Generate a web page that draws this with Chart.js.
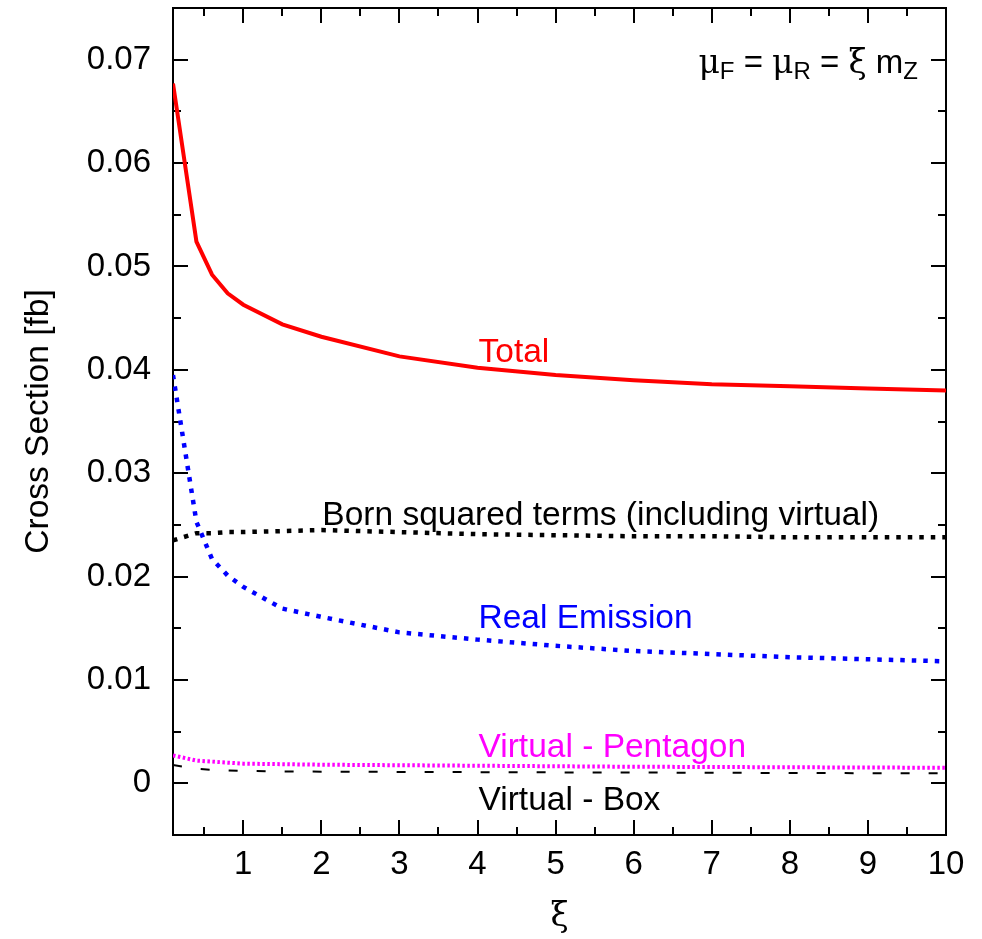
<!DOCTYPE html>
<html>
<head>
<meta charset="utf-8">
<title>Cross section vs. scale variation</title>
<script src="https://cdn.jsdelivr.net/npm/chart.js@4.4.1/dist/chart.umd.min.js"></script>
<style>
  html, body { margin: 0; padding: 0; background: #fff; }
  #wrap { width: 982px; height: 939px; }
</style>
</head>
<body>
<div id="wrap"><canvas id="xsecChart" width="982" height="939"></canvas></div>
<script>
// scale factor: mu_F = mu_R = xi * m_Z
const xi = [0.1, 0.4, 0.6, 0.8, 1, 1.5, 2, 3, 4, 5, 6, 7, 8, 9, 10];

// cross sections in fb
const total     = [0.0677, 0.0524, 0.0492, 0.0474, 0.0463, 0.0444, 0.0432, 0.0413, 0.0402, 0.0395, 0.0390, 0.0386, 0.0384, 0.0382, 0.0380];
const realEmis  = [0.0395, 0.0253, 0.0217, 0.0201, 0.0190, 0.0169, 0.0161, 0.0146, 0.0139, 0.0133, 0.0128, 0.0125, 0.0122, 0.0120, 0.0118];
const bornSq    = [0.0235, 0.0242, 0.0242, 0.0243, 0.0243, 0.0244, 0.0245, 0.0243, 0.0241, 0.0240, 0.0239, 0.0239, 0.0238, 0.0238, 0.0238];
const pentagon  = [0.0027, 0.0022, 0.0021, 0.0020, 0.0019, 0.00185, 0.0018, 0.00175, 0.0017, 0.00165, 0.0016, 0.00158, 0.00155, 0.00153, 0.0015];
const box       = [0.00177, 0.0014, 0.0013, 0.00125, 0.0012, 0.00115, 0.00113, 0.0011, 0.00108, 0.00106, 0.00104, 0.00102, 0.0010, 0.00098, 0.00096];

const xTicks = [1, 2, 3, 4, 5, 6, 7, 8, 9, 10];
const yTicks = [0, 0.01, 0.02, 0.03, 0.04, 0.05, 0.06, 0.07];

const SANS = "'Liberation Sans', Arial, Helvetica, sans-serif";
const SERIF = "'DejaVu Serif', 'Liberation Serif', serif";

function pts(ys) {
  return xi.map((x, i) => ({ x: x, y: ys[i] }));
}

// border box with inward major/minor ticks on all four sides (gnuplot style)
const frameTicks = {
  id: 'frameTicks',
  beforeDatasetsDraw(chart) {
    const { ctx, chartArea: a, scales: { x, y } } = chart;
    const major = 15, minor = 8;
    ctx.save();
    ctx.strokeStyle = '#000';
    ctx.lineWidth = 2;
    ctx.beginPath();
    for (let v = 0.5; v < 10; v += 0.5) {
      const px = Math.round(x.getPixelForValue(v));
      const len = Number.isInteger(v) ? major : minor;
      ctx.moveTo(px, a.bottom); ctx.lineTo(px, a.bottom - len);
      ctx.moveTo(px, a.top); ctx.lineTo(px, a.top + len);
    }
    for (let k = 0; k < 15; k++) {
      const v = k * 0.005;
      const py = Math.round(y.getPixelForValue(v));
      const len = k % 2 === 0 ? major : minor;
      ctx.moveTo(a.left, py); ctx.lineTo(a.left + len, py);
      ctx.moveTo(a.right, py); ctx.lineTo(a.right - len, py);
    }
    ctx.stroke();
    ctx.strokeRect(a.left, a.top, a.right - a.left, a.bottom - a.top);
    ctx.restore();
  }
};

// curve names and the scale-choice note
const curveLabels = {
  id: 'curveLabels',
  afterDatasetsDraw(chart) {
    const { ctx, scales: { x, y } } = chart;
    ctx.save();
    ctx.font = '33.5px ' + SANS;
    ctx.textAlign = 'left';
    ctx.textBaseline = 'alphabetic';
    const items = [
      { t: 'Total', xv: 4, yv: 0.0408, c: '#ff0000' },
      { t: 'Born squared terms (including virtual)', xv: 2, yv: 0.0250, c: '#000000' },
      { t: 'Real Emission', xv: 4, yv: 0.0150, c: '#0000ff' },
      { t: 'Virtual - Pentagon', xv: 4, yv: 0.00252, c: '#ff00ff' },
      { t: 'Virtual - Box', xv: 4, yv: -0.00258, c: '#000000' }
    ];
    items.forEach(it => {
      ctx.fillStyle = it.c;
      ctx.fillText(it.t, x.getPixelForValue(it.xv) + 1, y.getPixelForValue(it.yv));
    });

    // mu_F = mu_R = xi m_Z, right aligned
    const parts = [
      { t: '\u03bc', f: '33px ' + SERIF, dy: 0 },
      { t: 'F', f: '24px ' + SANS, dy: 6 },
      { t: ' = ', f: '33px ' + SANS, dy: 0 },
      { t: '\u03bc', f: '33px ' + SERIF, dy: 0 },
      { t: 'R', f: '24px ' + SANS, dy: 6 },
      { t: ' = ', f: '33px ' + SANS, dy: 0 },
      { t: '\u03be', f: '33px ' + SERIF, dy: 0 },
      { t: ' m', f: '33px ' + SANS, dy: 0 },
      { t: 'Z', f: '24px ' + SANS, dy: 6 }
    ];
    let w = 0;
    parts.forEach(p => { ctx.font = p.f; p.w = ctx.measureText(p.t).width; w += p.w; });
    let cx = 918 - w;
    const base = 73;
    ctx.fillStyle = '#000';
    parts.forEach(p => {
      ctx.font = p.f;
      ctx.fillText(p.t, cx, base + p.dy);
      cx += p.w;
    });
    ctx.restore();
  }
};

new Chart(document.getElementById('xsecChart'), {
  type: 'line',
  data: {
    datasets: [
      {
        label: 'Virtual - Box',
        data: pts(box),
        borderColor: '#000000',
        borderWidth: 2,
        borderDash: [9, 19]
      },
      {
        label: 'Virtual - Pentagon',
        data: pts(pentagon),
        borderColor: '#ff00ff',
        borderWidth: 4,
        borderDash: [2.5, 2.5]
      },
      {
        label: 'Born squared terms (including virtual)',
        data: pts(bornSq),
        borderColor: '#000000',
        borderWidth: 4.5,
        borderDash: [4.5, 7]
      },
      {
        label: 'Real Emission',
        data: pts(realEmis),
        borderColor: '#0000ff',
        borderWidth: 4.5,
        borderDash: [4.5, 7]
      },
      {
        label: 'Total',
        data: pts(total),
        borderColor: '#ff0000',
        borderWidth: 4
      }
    ]
  },
  options: {
    responsive: false,
    animation: false,
    devicePixelRatio: 1,
    parsing: false,
    layout: { padding: { top: 8, right: 36, left: 0, bottom: 0 } },
    elements: {
      line: { tension: 0, fill: false, borderCapStyle: 'butt', borderJoinStyle: 'miter' },
      point: { radius: 0, hoverRadius: 0 }
    },
    plugins: {
      legend: { display: false },
      tooltip: { enabled: false }
    },
    scales: {
      x: {
        type: 'linear',
        min: 0.1,
        max: 10,
        afterBuildTicks: axis => { axis.ticks = xTicks.map(v => ({ value: v })); },
        afterFit: axis => { axis.height = 104; axis.paddingLeft = 0; axis.paddingRight = 0; },
        grid: { display: false, drawTicks: false },
        border: { display: false },
        ticks: {
          color: '#000',
          font: { family: SANS, size: 33 },
          padding: 10,
          maxRotation: 0,
          autoSkip: false,
          callback: v => String(v)
        },
        title: {
          display: true,
          text: '\u03be',
          color: '#000',
          font: { family: SERIF, size: 33 },
          padding: { top: 0, bottom: 2 }
        }
      },
      y: {
        type: 'linear',
        min: -0.005,
        max: 0.075,
        afterBuildTicks: axis => { axis.ticks = yTicks.map(v => ({ value: v })); },
        afterFit: axis => { axis.width = 173; axis.paddingTop = 0; axis.paddingBottom = 0; },
        grid: { display: false, drawTicks: false },
        border: { display: false },
        ticks: {
          color: '#000',
          font: { family: SANS, size: 33 },
          padding: 22,
          autoSkip: false,
          callback: v => (v === 0 ? '0' : v.toFixed(2))
        },
        title: {
          display: true,
          text: 'Cross Section [fb]',
          color: '#000',
          font: { family: SANS, size: 33.5 },
          padding: { top: 19, bottom: 0 }
        }
      }
    }
  },
  plugins: [frameTicks, curveLabels]
});
</script>
</body>
</html>
